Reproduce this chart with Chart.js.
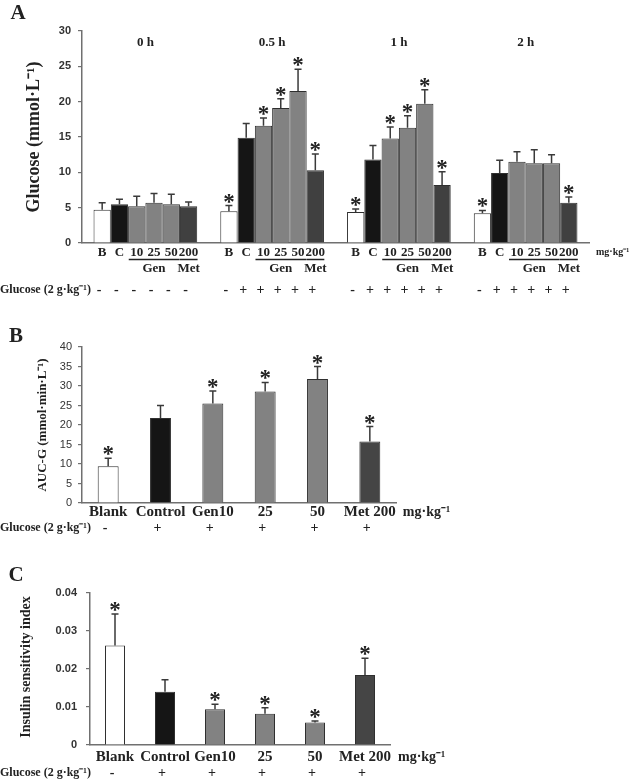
<!DOCTYPE html>
<html>
<head>
<meta charset="utf-8">
<script src="https://cdn.jsdelivr.net/npm/chart.js@4.4.1/dist/chart.umd.min.js"></script>
<style>
  body { margin: 0; background: #fff; width: 629px; height: 782px; overflow: hidden; position: relative; }
  canvas { position: absolute; left: 0; }
</style>
</head>
<body>
<canvas id="chartA" width="629" height="300" style="top:0"></canvas>
<canvas id="chartB" width="629" height="240" style="top:300px"></canvas>
<canvas id="chartC" width="629" height="242" style="top:540px"></canvas>
<script>
// ---- data ----
// panel A: blood glucose at each time point
const timePoints = ['0 h', '0.5 h', '1 h', '2 h'];
const groupLabelsA = ['B', 'C', '10', '25', '50', '200'];
const blankA = [4.7, 4.5, 4.4, 4.2];
const blankA_sd = [1.0, 0.8, 0.4, 0.4];
const controlA = [5.5, 14.9, 11.8, 9.9];
const controlA_sd = [0.7, 2.0, 2.0, 1.8];
const gen10A = [5.2, 16.6, 14.8, 11.5];
const gen10A_sd = [1.4, 1.1, 1.6, 1.4];
const gen25A = [5.7, 19.1, 16.3, 11.3];
const gen25A_sd = [1.3, 1.3, 1.7, 1.9];
const gen50A = [5.5, 21.5, 19.7, 11.3];
const gen50A_sd = [1.4, 3.1, 2.0, 1.2];
const metA = [5.2, 10.3, 8.2, 5.7];
const metA_sd = [0.6, 2.3, 1.9, 0.8];
const starsBlankA = [0, 1, 1, 1];
const starsControlA = [0, 0, 0, 0];
const starsGenA = [0, 1, 1, 0];
const starsMetA = [0, 1, 1, 1];
const glucoseA = [
  ['-', '-', '-', '-', '-', '-'],
  ['-', '+', '+', '+', '+', '+'],
  ['-', '+', '+', '+', '+', '+'],
  ['-', '+', '+', '+', '+', '+']
];

// panels B and C
const groupsBC = ['Blank', 'Control', 'Gen10', '25', '50', 'Met 200'];
const glucoseBC = ['-', '+', '+', '+', '+', '+'];
const aucG = [9.4, 21.8, 25.5, 28.6, 31.8, 15.8];
const aucG_sd = [2.1, 3.2, 3.2, 2.3, 3.2, 3.8];
const aucG_stars = [1, 0, 1, 1, 1, 1];
const isi = [0.0262, 0.0140, 0.0094, 0.0082, 0.0059, 0.0184];
const isi_sd = [0.0083, 0.0032, 0.0013, 0.0016, 0.0004, 0.0044];
const isi_stars = [1, 0, 1, 1, 1, 1];

const ticksA = [0, 5, 10, 15, 20, 25, 30];
const ticksB = [0, 5, 10, 15, 20, 25, 30, 35, 40];
const ticksC = [0, 0.01, 0.02, 0.03, 0.04];

// ---- styling ----
const WHITE = '#ffffff', BLACK = '#151515', GREY = '#828282', DARK = '#454545';
const barColorsBC = [WHITE, BLACK, GREY, GREY, GREY, DARK];
const SERIF = '"Liberation Serif", "Times New Roman", serif';
const SANS = '"Liberation Sans", Arial, sans-serif';
const INK = '#222';
const AXIS = '#707070';

function text(ctx, str, x, y, font, align) {
  ctx.font = font;
  ctx.textAlign = align || 'center';
  ctx.textBaseline = 'middle';
  ctx.fillStyle = INK;
  ctx.fillText(str, x, y);
}

function vtext(ctx, str, x, y, font) {
  ctx.save();
  ctx.translate(x, y);
  ctx.rotate(-Math.PI / 2);
  text(ctx, str, 0, 0, font);
  ctx.restore();
}

// error bars + stars for every bar, then panel specific text
function overlay(drawText) {
  return {
    id: 'overlay',
    afterDatasetsDraw(chart) {
      const ctx = chart.ctx;
      const y = chart.scales.y;
      ctx.save();
      chart.data.datasets.forEach((ds, i) => {
        chart.getDatasetMeta(i).data.forEach((bar, j) => {
          const top = y.getPixelForValue(ds.data[j] + ds.sd[j]);
          ctx.strokeStyle = '#3a3a3a';
          ctx.lineWidth = 1.5;
          ctx.beginPath();
          ctx.moveTo(bar.x, bar.y);
          ctx.lineTo(bar.x, top);
          ctx.moveTo(bar.x - 3.5, top);
          ctx.lineTo(bar.x + 3.5, top);
          ctx.stroke();
          if (ds.stars[j]) {
            ctx.font = 'bold 23px ' + SERIF;
            ctx.textAlign = 'center';
            ctx.textBaseline = 'alphabetic';
            ctx.fillStyle = INK;
            ctx.fillText('*', bar.x, top + 3);
          }
        });
      });
      drawText(chart, ctx);
      ctx.restore();
    }
  };
}

function baseOptions(plot, yMin, yMax, tickValues, tickFont, tickFmt) {
  return {
    responsive: false,
    animation: false,
    layout: { padding: { left: 0, top: plot.top, right: plot.right, bottom: 0 } },
    plugins: { legend: { display: false }, tooltip: { enabled: false } },
    scales: {
      x: {
        grid: { drawOnChartArea: false, drawTicks: false },
        border: { display: true, color: AXIS, width: 1.5 },
        ticks: { display: false },
        afterFit: s => { s.height = plot.bottom; }
      },
      y: {
        min: yMin, max: yMax,
        grid: { drawOnChartArea: false, drawTicks: true, tickLength: 4, color: AXIS, lineWidth: 1.2 },
        border: { display: true, color: AXIS, width: 1.5 },
        afterBuildTicks: s => { s.ticks = tickValues.map(v => ({ value: v })); },
        ticks: { font: tickFont, color: '#333', padding: plot.tickPad, callback: tickFmt },
        afterFit: s => { s.width = plot.left; }
      }
    }
  };
}

// ---- panel A ----
const datasetsA = [
  { data: blankA, sd: blankA_sd, stars: starsBlankA, backgroundColor: WHITE },
  { data: controlA, sd: controlA_sd, stars: starsControlA, backgroundColor: BLACK },
  { data: gen10A, sd: gen10A_sd, stars: starsGenA, backgroundColor: GREY },
  { data: gen25A, sd: gen25A_sd, stars: starsGenA, backgroundColor: GREY },
  { data: gen50A, sd: gen50A_sd, stars: starsGenA, backgroundColor: GREY },
  { data: metA, sd: metA_sd, stars: starsMetA, backgroundColor: '#404040' }
].map(d => Object.assign(d, { borderColor: '#2f2f2f', borderWidth: 1, categoryPercentage: 0.818, barPercentage: 1 }));

const optsA = baseOptions({ left: 82, top: 31, right: 40, bottom: 57, tickPad: 7 }, 0, 30, ticksA,
  { family: SANS, size: 11, weight: 'bold' }, v => v);

new Chart(document.getElementById('chartA'), {
  type: 'bar',
  data: { labels: timePoints, datasets: datasetsA },
  options: optsA,
  plugins: [overlay((chart, ctx) => {
    const xs = chart.scales.x;
    text(ctx, 'A', 18, 14, 'bold 21px ' + SERIF);
    vtext(ctx, 'Glucose (mmol\u00b7L\u207b\u00b9)', 34, 137, 'bold 18px ' + SERIF);
    timePoints.forEach((t, i) => text(ctx, t, xs.getPixelForValue(i), 43, 'bold 13px ' + SERIF));
    const bars = chart.data.datasets.map((d, i) => chart.getDatasetMeta(i).data);
    ctx.strokeStyle = INK;
    ctx.lineWidth = 1.5;
    timePoints.forEach((t, g) => {
      groupLabelsA.forEach((lab, d) => text(ctx, lab, bars[d][g].x, 253, 'bold 13px ' + SERIF));
      ctx.beginPath();
      ctx.moveTo(bars[2][g].x - 8, 259.5);
      ctx.lineTo(bars[4][g].x + 8, 259.5);
      ctx.moveTo(bars[5][g].x - 9, 259.5);
      ctx.lineTo(bars[5][g].x + 9, 259.5);
      ctx.stroke();
      text(ctx, 'Gen', bars[3][g].x, 269, 'bold 13px ' + SERIF);
      text(ctx, 'Met', bars[5][g].x, 269, 'bold 13px ' + SERIF);
      glucoseA[g].forEach((s, d) => text(ctx, s, bars[d][g].x - 3, 290, 'bold 14px ' + SERIF));
    });
    text(ctx, 'mg\u00b7kg\u207b\u00b9', 596, 252, 'bold 10px ' + SERIF, 'left');
    text(ctx, 'Glucose (2 g\u00b7kg\u207b\u00b9)', 0, 290, 'bold 12px ' + SERIF, 'left');
  })]
});

// ---- panels B and C share one layout ----
function bottomRows(chart, ctx, labelY, rowY) {
  const bars = chart.getDatasetMeta(0).data;
  groupsBC.forEach((g, i) => text(ctx, g, bars[i].x, labelY, 'bold 15px ' + SERIF));
  const last = bars[bars.length - 1].x;
  text(ctx, 'mg\u00b7kg\u207b\u00b9', last + 33, labelY, 'bold 14px ' + SERIF, 'left');
  text(ctx, 'Glucose (2 g\u00b7kg\u207b\u00b9)', 0, rowY, 'bold 12px ' + SERIF, 'left');
  glucoseBC.forEach((s, i) => text(ctx, s, bars[i].x - 3, rowY, 'bold 14px ' + SERIF));
}

const optsB = baseOptions({ left: 82, top: 47, right: 233, bottom: 37, tickPad: 6 }, 0, 40, ticksB,
  { family: SANS, size: 11 }, v => v);

new Chart(document.getElementById('chartB'), {
  type: 'bar',
  data: {
    labels: groupsBC,
    datasets: [{ data: aucG, sd: aucG_sd, stars: aucG_stars, backgroundColor: barColorsBC,
      borderColor: '#2f2f2f', borderWidth: 1, categoryPercentage: 1, barPercentage: 0.4 }]
  },
  options: optsB,
  plugins: [overlay((chart, ctx) => {
    text(ctx, 'B', 16, 37, 'bold 21px ' + SERIF);
    vtext(ctx, 'AUC-G (mmol\u00b7min\u00b7L\u207b\u00b9)', 43, 125, 'bold 13px ' + SERIF);
    bottomRows(chart, ctx, 212, 228);
  })]
});

const optsC = baseOptions({ left: 90, top: 53, right: 239, bottom: 37, tickPad: 9 }, 0, 0.04, ticksC,
  { family: SANS, size: 11, weight: 'bold' }, v => v === 0 ? '0' : v.toFixed(2));

new Chart(document.getElementById('chartC'), {
  type: 'bar',
  data: {
    labels: groupsBC,
    datasets: [{ data: isi, sd: isi_sd, stars: isi_stars, backgroundColor: barColorsBC,
      borderColor: '#2f2f2f', borderWidth: 1, categoryPercentage: 1, barPercentage: 0.4 }]
  },
  options: optsC,
  plugins: [overlay((chart, ctx) => {
    text(ctx, 'C', 16, 36, 'bold 21px ' + SERIF);
    vtext(ctx, 'Insulin sensitivity index', 26, 127, 'bold 14px ' + SERIF);
    bottomRows(chart, ctx, 217, 233);
  })]
});
</script>
</body>
</html>
